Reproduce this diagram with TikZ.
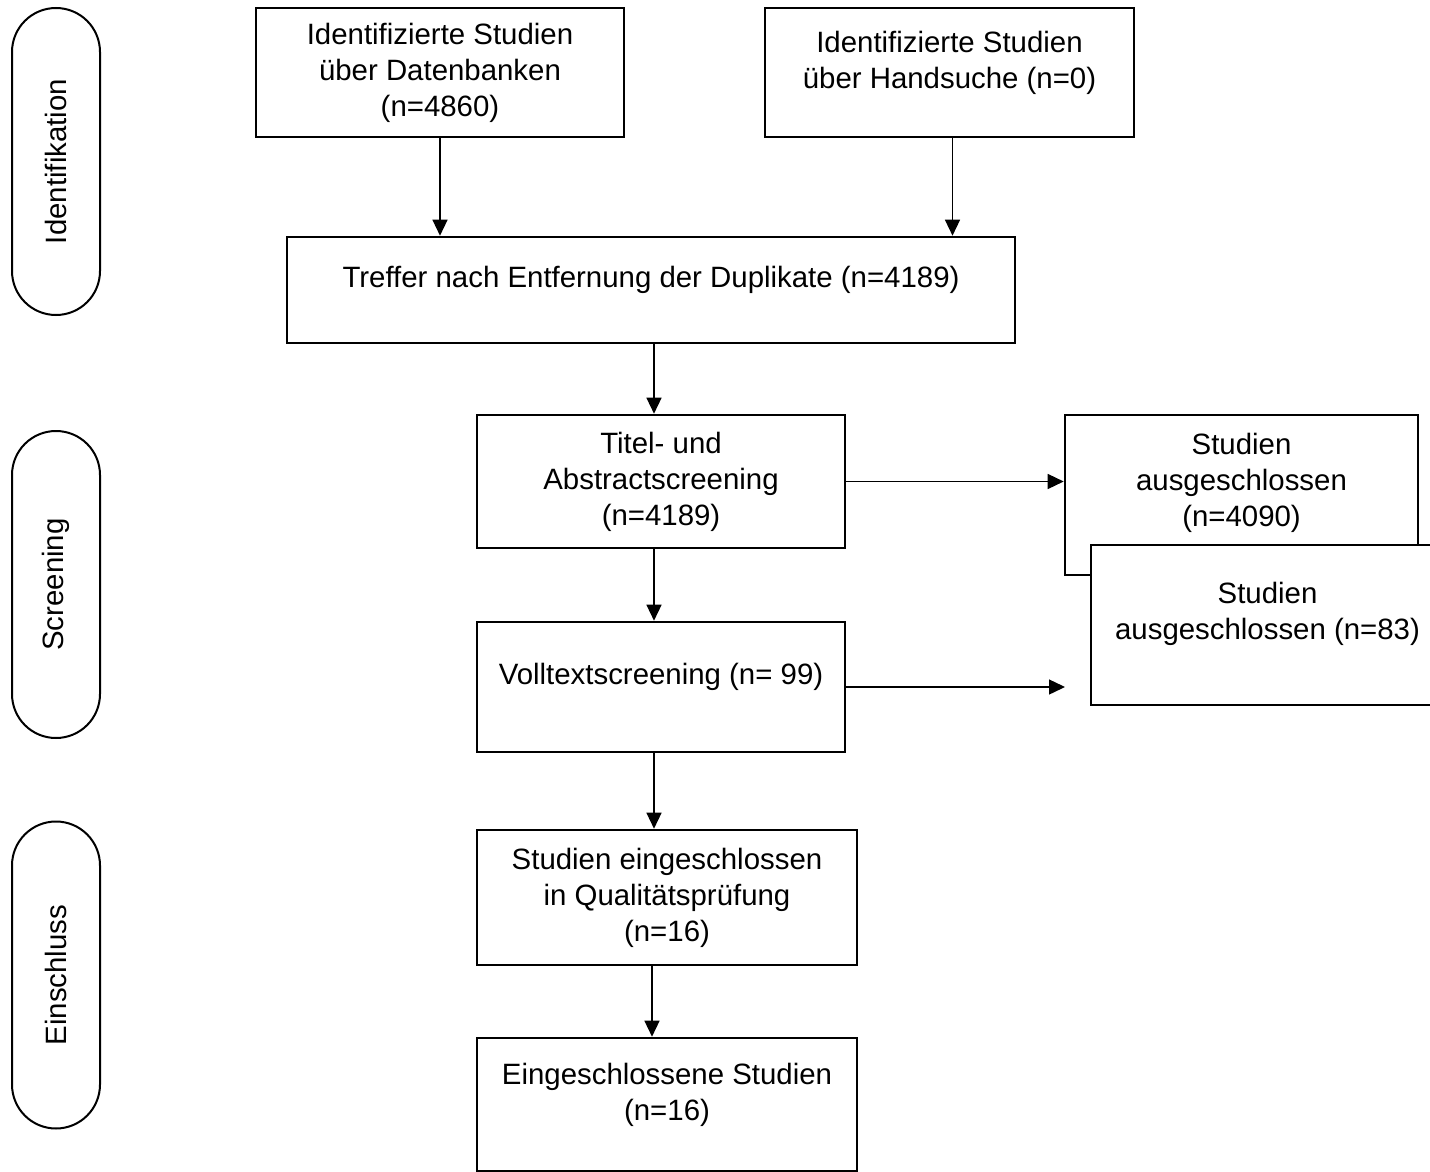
\documentclass[tikz,border=0pt]{standalone}
\usepackage{fontspec}
\setmainfont{Liberation Sans}
\usetikzlibrary{arrows.meta, positioning}

\begin{document}
\begin{tikzpicture}[x=0.5pt, y=-0.5pt,
  font=\fontsize{14.7}{18}\selectfont,
  box/.style={draw, line width=1.3pt, fill=white, align=center, inner sep=2pt},
  lift/.style={align=center, yshift=5pt},
  phase/.style={draw, line width=1pt, rounded corners=22pt, rotate=90, minimum width=153.5pt, minimum height=44pt},
  arr/.style={-{Triangle[length=8pt, width=7.5pt]}, line width=0.7pt},
]
  \useasboundingbox (0,0) rectangle (1430,1172);

  % phases
  \node[phase] (pid) at (56,161.5) {Identifikation};
  \node[phase] (psc) at (56,584.5) {Screening};
  \node[phase] (pei) at (56,975)   {Einschluss};

  % boxes
  \node[box, minimum width=184pt, minimum height=64.5pt] (b1) at (440,72.5) {Identifizierte Studien\\über Datenbanken\\(n=4860)};
  \node[box, minimum width=184.5pt, minimum height=64.5pt, label={[lift]center:Identifizierte Studien\\über Handsuche (n=0)}] (b2) at (949.5,72.5) {};
  \node[box, minimum width=364pt, minimum height=53pt, label={[lift]center:Treffer nach Entfernung der Duplikate (n=4189)}] (b3) at (651,290) {};
  \node[box, minimum width=184pt, minimum height=66.5pt] (b4) at (661,481.5) {Titel- und\\Abstractscreening\\(n=4189)};
  \node[box, minimum width=176.5pt, minimum height=80pt, label={[lift, yshift=1pt]center:Studien\\ausgeschlossen\\(n=4090)}] (b5) at (1241.5,495) {};
  \node[box, minimum width=176.5pt, minimum height=80pt, label={[lift, yshift=0.5pt]center:Studien\\ausgeschlossen (n=83)}] (b6) at (1267.5,625) {};
  \node[box, minimum width=184pt, minimum height=65pt, label={[lift]center:Volltextscreening (n= 99)}] (b7) at (661,687) {};
  \node[box, minimum width=190pt, minimum height=67.5pt] (b8) at (667,897.5) {Studien eingeschlossen\\in Qualitätsprüfung\\(n=16)};
  \node[box, minimum width=190pt, minimum height=66.5pt, label={[lift]center:Eingeschlossene Studien\\(n=16)}] (b9) at (667,1104.5) {};

  \coordinate (spine) at (654,0);
  \coordinate (b7end) at (1065,687);

  % arrows
  \draw[arr] (b1.south) -- (b1.south |- b3.north);
  \draw[arr] ([xshift=1.5pt]b2.south) -- ([xshift=1.5pt]b2.south |- b3.north);
  \draw[arr] (spine |- b3.south) -- (spine |- b4.north);
  \draw[arr] (b4.east) -- (b4.east -| b5.west);
  \draw[arr] (spine |- b4.south) -- (spine |- b7.north);
  \draw[arr] (b7.east) -- (b7end);
  \draw[arr] (spine |- b7.south) -- (spine |- b8.north);
  \draw[arr] ([xshift=-1pt]spine |- b8.south) -- ([xshift=-1pt]spine |- b9.north);
\end{tikzpicture}
\end{document}
